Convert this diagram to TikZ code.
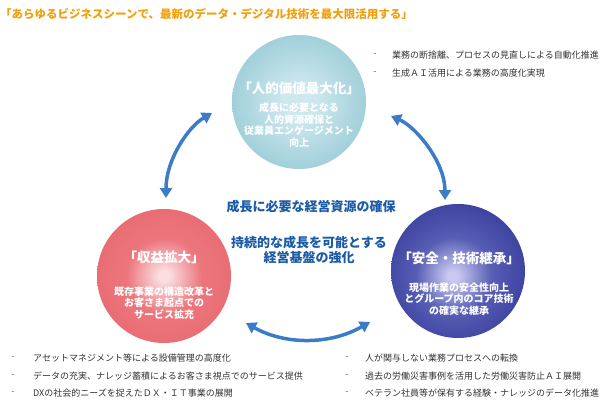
\documentclass[tikz,border=0pt]{standalone}
\usepackage{fontspec}
\newfontfamily\jp{Noto Sans CJK JP}
\usetikzlibrary{arrows.meta}
\definecolor{ttlc}{RGB}{240,160,12}
\definecolor{bluetxt}{RGB}{27,90,166}
\definecolor{arrowc}{RGB}{60,123,200}
\definecolor{listc}{RGB}{50,50,50}
\definecolor{dashc}{RGB}{90,90,90}
\definecolor{tealC}{RGB}{205,232,238}
\definecolor{tealM}{RGB}{150,201,213}
\definecolor{tealE}{RGB}{98,166,184}
\definecolor{redC}{RGB}{250,222,224}
\definecolor{redM}{RGB}{236,118,124}
\definecolor{redE}{RGB}{226,90,98}
\definecolor{navC}{RGB}{200,200,240}
\definecolor{navM}{RGB}{88,94,180}
\definecolor{navN}{RGB}{54,60,155}
\definecolor{navE}{RGB}{30,36,125}
\pgfdeclareradialshading{tealball}{\pgfpoint{0bp}{0bp}}{color(0bp)=(tealC); color(6bp)=(tealC); color(30bp)=(tealM); color(50bp)=(tealE); color(60bp)=(tealE)}
\pgfdeclareradialshading{redball}{\pgfpoint{0bp}{0bp}}{color(0bp)=(redC); color(2bp)=(redC); color(14bp)=(redM); color(50bp)=(redE); color(60bp)=(redE)}
\pgfdeclareradialshading{navball}{\pgfpoint{-2bp}{-2bp}}{color(0bp)=(navC); color(2bp)=(navC); color(14bp)=(navM); color(30bp)=(navN); color(50bp)=(navE); color(60bp)=(navE)}
\tikzset{
  ball/.style={circle, minimum size=134pt, inner sep=0pt, shade},
  ctitle/.style={font=\jp\bfseries\fontsize{13.5}{15}\selectfont, text=white, inner sep=0pt},
  csub/.style={font=\jp\bfseries\fontsize{10}{11.5}\selectfont, text=white, align=center, inner sep=0pt},
  midtxt/.style={font=\jp\bfseries\fontsize{13}{15}\selectfont, text=bluetxt, align=center, inner sep=0pt},
  barrow/.style={draw=arrowc, line width=3.5pt, {Triangle[length=10pt,width=12pt]}-{Triangle[length=10pt,width=12pt]}},
  dashm/.style={font=\jp\fontsize{9}{10}\selectfont, text=dashc, inner sep=0pt},
  litem/.style={font=\jp\fontsize{9}{10}\selectfont, text=listc, anchor=west, inner sep=0pt},
}
\begin{document}
\begin{tikzpicture}[x=1pt,y=-1pt]
\useasboundingbox (0,0) rectangle (612,401);
% title
\node[font=\jp\bfseries\fontsize{11.5}{13}\selectfont, text=ttlc, anchor=west, inner sep=0pt] (title) at (0,14) {「あらゆるビジネスシーンで、最新のデータ・デジタル技術を最大限活用する」};
% circles
\node[ball, shading=tealball] (hc) at (299,102) {};
\node[ball, shading=redball] (rc) at (164,276) {};
\node[ball, shading=navball] (nc) at (458,271) {};
% circle texts
\node[ctitle] (ht) at (299,88) {「人的価値最大化」};
\node[csub] (hs) at (299,125) {成長に必要となる\\人的資源確保と\\従業員エンゲージメント\\向上};
\node[ctitle] (rt) at (164,257) {「収益拡大」};
\node[csub] (rs) at (164,303) {既存事業の構造改革と\\お客さま起点での\\サービス拡充};
\node[ctitle] (nt) at (459,258) {「安全・技術継承」};
\node[csub] (ns) at (459,299) {現場作業の安全性向上\\とグループ内のコア技術\\の確実な継承};
% middle texts
\node[midtxt] (m1) at (311,207) {成長に必要な経営資源の確保};
\node[midtxt] (m2) at (309,250) {持続的な成長を可能とする\\経営基盤の強化};
% arrows
\coordinate (a1s) at (166,198);
\coordinate (a1e) at (212,113);
\coordinate (a2s) at (391,116);
\coordinate (a2e) at (445,200);
\coordinate (a3s) at (246,323);
\coordinate (a3e) at (370,322);
\draw[barrow] (a1s) .. controls (166,160) and (188,127) .. (a1e);
\draw[barrow] (a2s) .. controls (416,127) and (445,162) .. (a2e);
\draw[barrow] (a3s) .. controls (285,345) and (330,345) .. (a3e);
% top-right list
\node[dashm] (d1) at (375,55) {-};
\node[litem] (l1) at (392,55) {業務の断捨離、プロセスの見直しによる自動化推進};
\node[dashm] (d2) at (375,73) {-};
\node[litem] (l2) at (392,73) {生成ＡＩ活用による業務の高度化実現};
% bottom-left list
\node[dashm] (d3) at (13,358) {-};
\node[litem] (l3) at (33,358) {アセットマネジメント等による設備管理の高度化};
\node[dashm] (d4) at (13,376) {-};
\node[litem] (l4) at (33,376) {データの充実、ナレッジ蓄積によるお客さま視点でのサービス提供};
\node[dashm] (d5) at (13,393) {-};
\node[litem] (l5) at (33,393) {DXの社会的ニーズを捉えたＤＸ・ＩＴ事業の展開};
% bottom-right list
\node[dashm] (d6) at (347,358) {-};
\node[litem] (l6) at (365,358) {人が関与しない業務プロセスへの転換};
\node[dashm] (d7) at (347,376) {-};
\node[litem] (l7) at (365,376) {過去の労働災害事例を活用した労働災害防止ＡＩ展開};
\node[dashm] (d8) at (347,393) {-};
\node[litem] (l8) at (365,393) {ベテラン社員等が保有する経験・ナレッジのデータ化推進};
\end{tikzpicture}
\end{document}
